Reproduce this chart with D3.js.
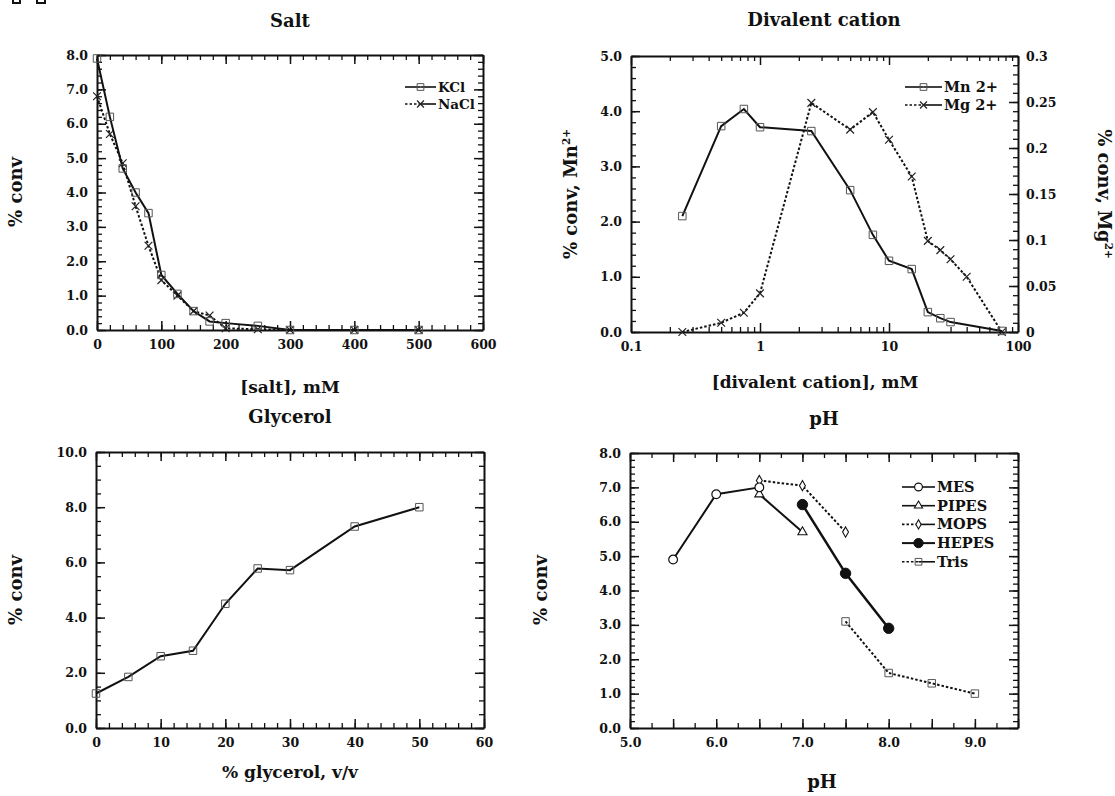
<!DOCTYPE html>
<html>
<head>
<meta charset="utf-8">
<script src="https://cdn.jsdelivr.net/npm/d3@7"></script>
<style>
  body { margin: 0; background: #fff; }
  svg { display: block; }
  text { font-family: "DejaVu Serif", serif; font-weight: bold; fill: #111; }
</style>
</head>
<body>
<div id="chart-area"></div>
<script>
// ---- Salt panel ----
const saltConc = [0, 20, 40, 60, 80, 100, 125, 150, 175, 200, 250, 300, 400, 500];
const kclConv  = [7.9, 6.2, 4.7, 4.0, 3.4, 1.6, 1.05, 0.55, 0.25, 0.2, 0.12, 0, 0, 0];
const naclConv = [6.8, 5.7, 4.85, 3.6, 2.45, 1.45, 1.0, 0.55, 0.42, 0.05, 0.02, 0, 0, 0];
const saltXTicks = [0, 100, 200, 300, 400, 500, 600];
const saltYTicks = [0, 1, 2, 3, 4, 5, 6, 7, 8];

// ---- Divalent cation panel ----
const mnConc = [0.25, 0.5, 0.75, 1, 2.5, 5, 7.5, 10, 15, 20, 25, 30, 75];
const mnConv = [2.1, 3.73, 4.04, 3.71, 3.64, 2.57, 1.76, 1.29, 1.14, 0.36, 0.25, 0.18, 0.02];
const mgConc = [0.25, 0.5, 0.75, 1, 2.5, 5, 7.5, 10, 15, 20, 25, 30, 40, 75];
const mgConv = [0, 0.01, 0.021, 0.042, 0.249, 0.22, 0.239, 0.209, 0.169, 0.099, 0.089, 0.079, 0.06, 0];
const divXTicks = [0.1, 1, 10, 100];
const mnYTicks = [0, 1, 2, 3, 4, 5];
const mgYTicks = [0, 0.05, 0.1, 0.15, 0.2, 0.25, 0.3];

// ---- Glycerol panel ----
const glycerolPct  = [0, 5, 10, 15, 20, 25, 30, 40, 50];
const glycerolConv = [1.25, 1.85, 2.6, 2.8, 4.5, 5.78, 5.72, 7.3, 8.0];
const glyXTicks = [0, 10, 20, 30, 40, 50, 60];
const glyYTicks = [0, 2, 4, 6, 8, 10];

// ---- pH panel ----
const mesPH   = [5.5, 6.0, 6.5];      const mesConv   = [4.9, 6.8, 7.0];
const pipesPH = [6.5, 7.0];           const pipesConv = [6.8, 5.7];
const mopsPH  = [6.5, 7.0, 7.5];      const mopsConv  = [7.2, 7.05, 5.7];
const hepesPH = [7.0, 7.5, 8.0];      const hepesConv = [6.5, 4.5, 2.9];
const trisPH  = [7.5, 8.0, 8.5, 9.0]; const trisConv  = [3.1, 1.6, 1.3, 1.0];
const phXTicks = [5.0, 5.5, 6.0, 6.5, 7.0, 7.5, 8.0, 8.5, 9.0, 9.5];
const phYTicks = [0, 1, 2, 3, 4, 5, 6, 7, 8];

(function () {
    'use strict';

    const WIDTH = 1115;
    const HEIGHT = 796;
    const DOTTED = '2.5,2';

    const svg = d3.select('#chart-area').append('svg')
        .attr('width', WIDTH)
        .attr('height', HEIGHT);

    // Plot boxes of the four panels
    const P1 = {left: 97, right: 483, top: 55, bottom: 330};
    const P2 = {left: 631, right: 1018, top: 56, bottom: 332};
    const P3 = {left: 96, right: 484, top: 452, bottom: 728};
    const P4 = {left: 630, right: 1018, top: 453, bottom: 728};

    // X marker (no symbolTimes guarantee in every v7 build)
    const symbolX = {
        draw(ctx, size) {
            const r = Math.sqrt(size) / 2;
            ctx.moveTo(-r, -r); ctx.lineTo(r, r);
            ctx.moveTo(r, -r); ctx.lineTo(-r, r);
        }
    };
    const MARKERS = {
        square:  {type: d3.symbolSquare,   size: 56, fill: 'none',  stroke: '#555', sw: 1},
        x:       {type: symbolX,           size: 60, fill: 'none',  stroke: '#222', sw: 1.2},
        circle:  {type: d3.symbolCircle,   size: 60, fill: '#fff',  stroke: '#111', sw: 1.2},
        dot:     {type: d3.symbolCircle,   size: 85, fill: '#111',  stroke: '#111', sw: 1},
        tri:     {type: d3.symbolTriangle, size: 36, fill: '#fff',  stroke: '#111', sw: 1.1},
        diamond: {type: d3.symbolDiamond,  size: 30, fill: '#fff',  stroke: '#111', sw: 1.1}
    };

    // One side of a frame: minor ticks, then major ticks with labels, all pointing inward
    function side(axisFn, scale, transform, major, minor, fmt, pad) {
        if (minor && minor.length) {
            svg.append('g')
                .attr('transform', transform)
                .call(axisFn(scale).tickValues(minor).tickSize(-5).tickSizeOuter(0).tickFormat(''))
                .call(g => g.select('.domain').remove())
                .selectAll('line').attr('stroke', '#111').attr('stroke-width', 1.3);
        }
        const g = svg.append('g')
            .attr('transform', transform)
            .call(axisFn(scale).tickValues(major).tickSize(-9).tickSizeOuter(0)
                .tickPadding(pad).tickFormat(fmt || (() => '')));
        g.attr('font-family', null).attr('font-size', null);
        g.select('.domain').attr('stroke', '#111').attr('stroke-width', 2);
        g.selectAll('.tick line').attr('stroke', '#111').attr('stroke-width', 1.5);
        g.selectAll('.tick text').attr('font-size', '12.5px').attr('fill', '#111');
    }

    function frame(box, x, y, o) {
        side(d3.axisBottom, x, `translate(0,${box.bottom})`, o.xMajor, o.xMinor, o.xFmt, 10);
        side(d3.axisTop, x, `translate(0,${box.top})`, o.xMajor, o.xMinor, null, 8);
        side(d3.axisLeft, y, `translate(${box.left},0)`, o.yMajor, o.yMinor, o.yFmt, 9);
        side(d3.axisRight, o.y2 || y, `translate(${box.right},0)`,
            o.y2Major || o.yMajor, o.y2Minor || o.yMinor, o.y2Fmt, 8);
    }

    function series(xs, ys, x, y, marker, dash, width) {
        const pts = xs.map((d, i) => [x(d), y(ys[i])]);
        svg.append('path')
            .attr('d', d3.line()(pts))
            .attr('fill', 'none')
            .attr('stroke', '#111')
            .attr('stroke-width', width || 2)
            .attr('stroke-dasharray', dash);
        const m = MARKERS[marker];
        svg.append('g').selectAll('path')
            .data(pts)
            .enter()
            .append('path')
            .attr('transform', d => `translate(${d[0]},${d[1]})`)
            .attr('d', d3.symbol().type(m.type).size(m.size))
            .attr('fill', m.fill)
            .attr('stroke', m.stroke)
            .attr('stroke-width', m.sw);
    }

    // Legend rows: dotted/solid left half, marker, solid right half, label
    function legend(x0, y0, rowH, len, fontSize, items) {
        items.forEach((it, i) => {
            const yy = y0 + i * rowH;
            svg.append('line')
                .attr('x1', x0).attr('x2', x0 + len / 2).attr('y1', yy).attr('y2', yy)
                .attr('stroke', '#111').attr('stroke-width', it.width || 1.6)
                .attr('stroke-dasharray', it.dash);
            svg.append('line')
                .attr('x1', x0 + len / 2).attr('x2', x0 + len).attr('y1', yy).attr('y2', yy)
                .attr('stroke', '#111').attr('stroke-width', it.width || 1.6);
            const m = MARKERS[it.marker];
            svg.append('path')
                .attr('transform', `translate(${x0 + len / 2},${yy})`)
                .attr('d', d3.symbol().type(m.type).size(m.size * 0.8))
                .attr('fill', m.fill).attr('stroke', m.stroke).attr('stroke-width', m.sw);
            svg.append('text')
                .attr('x', x0 + len + 2)
                .attr('y', yy + 5)
                .attr('font-size', fontSize + 'px')
                .text(it.name);
        });
    }

    function label(x, y, txt, size, rot, sup) {
        const t = svg.append('text')
            .attr('transform', `translate(${x},${y})` + (rot ? ` rotate(${rot})` : ''))
            .attr('text-anchor', 'middle')
            .attr('font-size', size + 'px');
        t.append('tspan').text(txt);
        if (sup) {
            t.append('tspan').attr('dy', -7).attr('font-size', '10.5px').text(sup);
        }
    }

    const fmt1 = d3.format('.1f');

    // ---------- Salt ----------
    const x1 = d3.scaleLinear().domain([0, 600]).range([P1.left, P1.right]);
    const y1 = d3.scaleLinear().domain([0, 8]).range([P1.bottom, P1.top]);
    frame(P1, x1, y1, {
        xMajor: saltXTicks, xMinor: d3.range(0, 601, 20), xFmt: d3.format('d'),
        yMajor: saltYTicks, yMinor: d3.range(0, 8.01, 0.2), yFmt: fmt1
    });
    series(saltConc, naclConv, x1, y1, 'x', DOTTED);
    series(saltConc, kclConv, x1, y1, 'square');
    legend(405, 87, 17, 31, 13.5, [
        {name: 'KCl', marker: 'square'},
        {name: 'NaCl', marker: 'x', dash: DOTTED}
    ]);
    label(290, 27, 'Salt', 18);
    label(290, 393, '[salt], mM', 17);
    label(22, 192, '% conv', 18, -90);

    // ---------- Divalent cation ----------
    const x2 = d3.scaleLog().domain([0.1, 100]).range([P2.left, P2.right]);
    const y2 = d3.scaleLinear().domain([0, 5]).range([P2.bottom, P2.top]);
    const y2r = d3.scaleLinear().domain([0, 0.3]).range([P2.bottom, P2.top]);
    const logMinor = [0.1, 1, 10].flatMap(d => d3.range(2, 10).map(k => k * d));
    frame(P2, x2, y2, {
        xMajor: divXTicks, xMinor: logMinor, xFmt: d => String(d),
        yMajor: mnYTicks, yMinor: d3.range(0, 5.01, 0.2), yFmt: fmt1,
        y2: y2r, y2Major: mgYTicks, y2Minor: d3.range(0, 0.301, 0.01), y2Fmt: d => String(d)
    });
    series(mgConc, mgConv, x2, y2r, 'x', DOTTED);
    series(mnConc, mnConv, x2, y2, 'square');
    legend(905, 87, 18, 37, 14.5, [
        {name: 'Mn  2+', marker: 'square'},
        {name: 'Mg  2+', marker: 'x', dash: DOTTED}
    ]);
    label(824, 26, 'Divalent  cation', 18);
    label(815, 388, '[divalent cation], mM', 17);
    label(577, 194, '% conv, Mn', 18, -90, '2+');
    label(1098, 194, '% conv, Mg', 18, 90, '2+');

    // ---------- Glycerol ----------
    const x3 = d3.scaleLinear().domain([0, 60]).range([P3.left, P3.right]);
    const y3 = d3.scaleLinear().domain([0, 10]).range([P3.bottom, P3.top]);
    frame(P3, x3, y3, {
        xMajor: glyXTicks, xMinor: d3.range(0, 60.1, 2), xFmt: d3.format('d'),
        yMajor: glyYTicks, yMinor: d3.range(0, 10.01, 0.5), yFmt: fmt1
    });
    series(glycerolPct, glycerolConv, x3, y3, 'square');
    label(290, 423, 'Glycerol', 18);
    label(290, 778, '% glycerol, v/v', 17);
    label(22, 590, '% conv', 18, -90);

    // ---------- pH ----------
    const x4 = d3.scaleLinear().domain([5, 9.5]).range([P4.left, P4.right]);
    const y4 = d3.scaleLinear().domain([0, 8]).range([P4.bottom, P4.top]);
    frame(P4, x4, y4, {
        xMajor: phXTicks, xMinor: d3.range(5, 9.51, 0.25),
        xFmt: d => (Math.abs(d - Math.round(d)) < 1e-9 ? fmt1(d) : ''),
        yMajor: phYTicks, yMinor: d3.range(0, 8.01, 0.2), yFmt: fmt1
    });
    series(trisPH, trisConv, x4, y4, 'square', DOTTED);
    series(mopsPH, mopsConv, x4, y4, 'diamond', DOTTED);
    series(pipesPH, pipesConv, x4, y4, 'tri');
    series(mesPH, mesConv, x4, y4, 'circle');
    series(hepesPH, hepesConv, x4, y4, 'dot', null, 2.5);
    legend(902, 487, 18.7, 33, 14.5, [
        {name: 'MES', marker: 'circle'},
        {name: 'PIPES', marker: 'tri'},
        {name: 'MOPS', marker: 'diamond', dash: DOTTED},
        {name: 'HEPES', marker: 'dot', width: 2},
        {name: 'Tris', marker: 'square', dash: DOTTED}
    ]);
    label(824, 425, 'pH', 18);
    label(822, 788, 'pH', 18);
    label(547, 590, '% conv', 18, -90);

    // Cropped fragments of a figure label at the very top edge
    svg.append('path')
        .attr('d', 'M13,0V3H20V0M37,0V3H45V0')
        .attr('fill', 'none').attr('stroke', '#111').attr('stroke-width', 2);
})();
</script>
</body>
</html>
